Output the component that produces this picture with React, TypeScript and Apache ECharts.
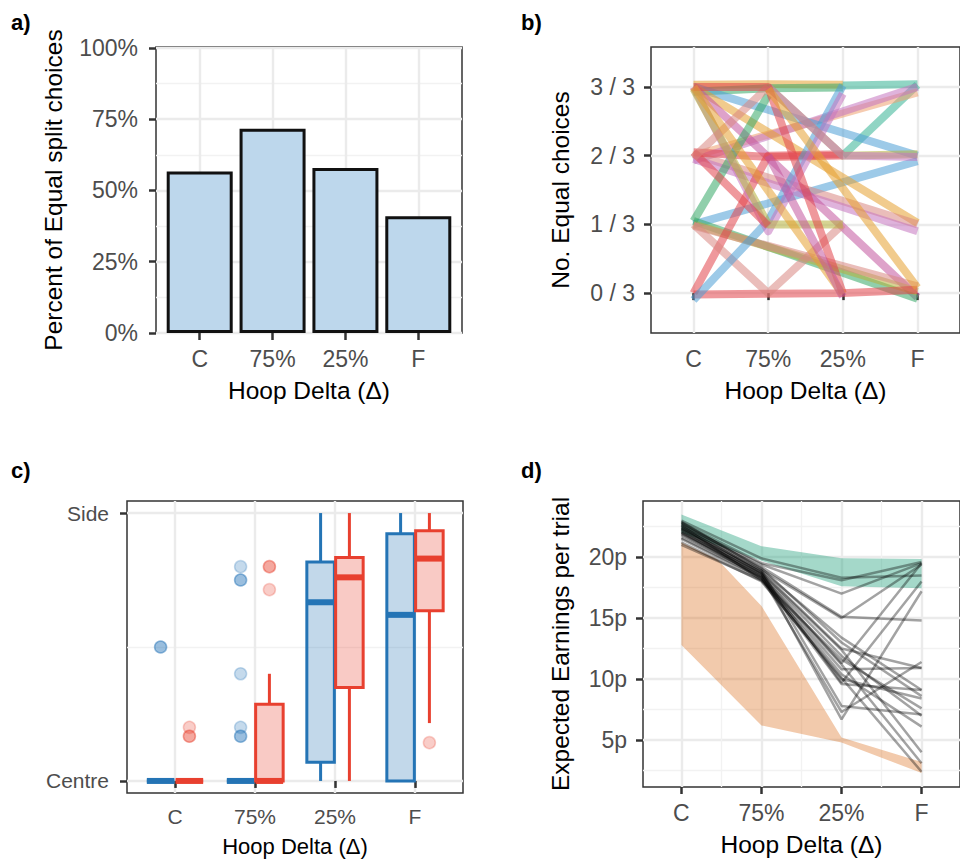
import React, { useEffect, useRef } from "react";
import * as echarts from "echarts";

// ---------- shared ----------
const hoopLevels = ["C", "75%", "25%", "F"];
const hoopPos = [1, 2, 3, 4];
const hoopTitle = "Hoop Delta (Δ)";

// ---------- panel a ----------
const equalSplitShare = [0.567, 0.717, 0.579, 0.41];
const percentTicks = [0, 0.25, 0.5, 0.75, 1];
const percentMinor = [0.125, 0.375, 0.625, 0.875];

// ---------- panel b ----------
const choiceTicks = [0, 1, 2, 3];
const pal = {
  blue: "#4C9FD6",
  orange: "#E6A030",
  green: "#35A866",
  red: "#E2434B",
  purple: "#C474C0",
  olive: "#B5B03A",
  salmon: "#D98682",
  teal: "#34B394",
  peach: "#EFA070",
  magenta: "#C2559E",
};
const participantColors = [
  pal.orange, pal.green, pal.teal, pal.teal, pal.peach, pal.purple, pal.blue, pal.blue,
  pal.orange, pal.salmon, pal.purple, pal.magenta, pal.green, pal.olive, pal.salmon, pal.red,
  pal.red, pal.red, pal.salmon, pal.green, pal.blue, pal.purple, pal.olive, pal.red,
  pal.olive, pal.purple, pal.salmon, pal.red, pal.orange, pal.magenta, pal.orange,
];
// No. equal choices at C, 75%, 25%, F (null = not observed)
const participantChoices: (number | null)[][] = [
  [3.03, 3.04, 3.03, null],
  [2.93, 2.98, 2.99, null],
  [null, null, 3.02, 3.04],
  [null, null, 2.0, 3.03],
  [2.0, null, null, 2.92],
  [1.93, null, null, 3.0],
  [3.0, null, null, 2.0],
  [1.0, null, null, 1.92],
  [3.0, null, null, 1.02],
  [2.02, null, null, 1.0],
  [1.95, null, null, 0.9],
  [3.0, null, null, -0.06],
  [1.05, null, null, -0.08],
  [1.0, null, null, 0.02],
  [0.98, null, null, 0.1],
  [-0.02, -0.01, 0.0, 0.05],
  [0.0, 2.0, 2.02, null],
  [2.05, 1.98, 2.0, null],
  [1.0, 0.0, 1.0, null],
  [1.05, 2.88, null, null],
  [-0.1, 1.05, 3.02, null],
  [3.0, 0.9, 2.9, null],
  [2.97, 1.0, 1.0, null],
  [2.05, 0.98, null, null],
  [null, 3.0, 2.0, 2.02],
  [null, 3.0, 2.0, 1.98],
  [1.97, 3.0, null, null],
  [3.0, 3.0, 0.0, null],
  [3.0, null, -0.02, null],
  [null, 2.0, -0.05, null],
  [null, 2.97, null, 0.08],
];

// ---------- panel c ----------
const sideTicks = [0, 1];
const sideLabels = ["Centre", "Side"];
const sideMinor = [0.5];
// [low, q1, median, q3, high] per hoop level
const blueBoxStats = [
  [0, 0, 0, 0, 0],
  [0, 0, 0, 0, 0],
  [0, 0.07, 0.667, 0.817, 1],
  [0, 0, 0.62, 0.923, 1],
];
const redBoxStats = [
  [0, 0, 0, 0, 0],
  [0, 0, 0, 0.286, 0.4],
  [0, 0.349, 0.76, 0.834, 1],
  [0.216, 0.635, 0.83, 0.934, 1],
];
// [hoop position, value]
const blueOutliers = [
  [1, 0.5], [1, 0.5], [2, 0.8], [2, 0.75], [2, 0.75], [2, 0.4], [2, 0.2], [2, 0.167], [2, 0.167],
];
const redOutliers = [
  [1, 0.2], [1, 0.167], [1, 0.167], [2, 0.8], [2, 0.8], [2, 0.714], [4, 0.143],
];

// ---------- panel d ----------
const earningsTicks = [5, 10, 15, 20];
const earningsMinor = [2.5, 7.5, 12.5, 17.5, 22.5];
const hoopMinor = [1.5, 2.5, 3.5];
const greenTop = [[1, 23.5], [2, 20.9], [3, 19.9], [4, 19.85]];
const greenBottom = [[1, 22.0], [2, 19.7], [3, 17.6], [4, 17.45]];
const orangeTop = [[1, 21.2], [1.45, 19.8], [2, 16.0], [3, 5.2], [4, 3.2]];
const orangeBottom = [[1, 12.8], [2, 6.2], [3, 4.8], [4, 2.3]];
const earnings: number[][] = [
  [23.0, 19.9, 18.3, 18.5],
  [22.8, 19.5, 18.1, 19.6],
  [22.6, 19.4, 17.0, 19.5],
  [22.5, 19.2, 15.1, 14.8],
  [22.9, 19.0, 15.0, 19.4],
  [22.4, 18.9, 13.4, 9.1],
  [22.2, 18.8, 12.5, 10.9],
  [22.7, 18.7, 12.4, 4.0],
  [22.0, 18.6, 11.9, 7.0],
  [22.3, 18.5, 11.3, 19.5],
  [21.8, 18.4, 11.2, 3.1],
  [22.1, 18.3, 10.8, 10.9],
  [21.5, 18.2, 10.4, 6.1],
  [22.6, 18.1, 10.0, 8.4],
  [21.2, 18.0, 10.1, 2.4],
  [22.0, 18.6, 9.7, 18.0],
  [21.6, 18.3, 9.6, 9.1],
  [22.4, 18.9, 7.8, 7.1],
  [21.9, 18.4, 7.3, 11.4],
  [22.3, 18.7, 6.7, 17.2],
  [21.0, 18.1, 11.6, 7.6],
  [22.8, 19.1, 13.0, 8.6],
];

// ---------- styling ----------
const FONT = "'Liberation Sans', Arial, Helvetica, sans-serif";
const TICK_COLOR = "#4D4D4D";
const GRID_MAJOR = { color: "#EBEBEB", width: 2.4 };
const GRID_MINOR = { color: "#F2F2F2", width: 1.3 };
const BLUE = "#2474B5";
const BLUE_FILL = "rgba(36,116,181,0.33)";
const RED = "#E8402F";
const RED_FILL = "rgba(232,64,47,0.33)";
const DODGE = 0.18;
const BOX_HALF = 0.172;

function majorAxis(opts: any) {
  const { gridIndex, min, max, ticks, formatter, fontSize, margin, name, nameGap, nameSize } = opts;
  return {
    type: "value",
    gridIndex,
    min,
    max,
    axisLine: { show: false },
    axisTick: { show: true, length: 7, customValues: ticks, lineStyle: { color: "#333", width: 2.5 } },
    axisLabel: { customValues: ticks, formatter, color: TICK_COLOR, fontSize, fontFamily: FONT, margin },
    splitLine: { show: true, lineStyle: GRID_MAJOR },
    name,
    nameLocation: "middle",
    nameGap,
    nameTextStyle: { color: "#000", fontSize: nameSize, fontFamily: FONT },
  };
}

function minorAxis(gridIndex: number, min: number, max: number, ticks: number[]) {
  return {
    type: "value",
    gridIndex,
    min,
    max,
    axisLine: { show: false },
    axisTick: { show: false, customValues: ticks },
    axisLabel: { show: false, customValues: ticks },
    splitLine: { show: true, lineStyle: GRID_MINOR },
  };
}

const hoopFormatter = (v: number) => hoopLevels[Math.round(v) - 1];

function ribbon(top: number[][], bottom: number[][], color: string, xi: number, yi: number) {
  return {
    type: "custom",
    xAxisIndex: xi,
    yAxisIndex: yi,
    z: 2,
    silent: true,
    data: [[top[0][0], top[0][1]]],
    renderItem: (_p: any, api: any) => {
      const pts = top.map((p) => api.coord(p)).concat(bottom.slice().reverse().map((p) => api.coord(p)));
      return { type: "polygon", shape: { points: pts }, style: { fill: color } };
    },
  };
}

function boxSeries(stats: number[][], offset: number, stroke: string, fill: string) {
  return {
    type: "custom",
    xAxisIndex: 2,
    yAxisIndex: 2,
    z: 3,
    data: stats.map((s, i) => [hoopPos[i] + offset, ...s]),
    renderItem: (_p: any, api: any) => {
      const x = api.value(0);
      const low = api.value(1), q1 = api.value(2), med = api.value(3), q3 = api.value(4), high = api.value(5);
      const c = api.coord([x, med]);
      const pLow = api.coord([x, low]);
      const pHigh = api.coord([x, high]);
      const tl = api.coord([x - BOX_HALF, q3]);
      const br = api.coord([x + BOX_HALF, q1]);
      const ls = { stroke, lineWidth: 3 };
      return {
        type: "group",
        children: [
          { type: "line", shape: { x1: c[0], y1: pLow[1], x2: c[0], y2: br[1] }, style: ls },
          { type: "line", shape: { x1: c[0], y1: pHigh[1], x2: c[0], y2: tl[1] }, style: ls },
          {
            type: "rect",
            shape: { x: tl[0], y: tl[1], width: br[0] - tl[0], height: br[1] - tl[1] },
            style: { fill, stroke, lineWidth: 3 },
          },
          { type: "line", shape: { x1: tl[0], y1: c[1], x2: br[0], y2: c[1] }, style: { stroke, lineWidth: 6 } },
        ],
      };
    },
  };
}

function outlierSeries(points: number[][], offset: number, fill: string) {
  return {
    type: "scatter",
    xAxisIndex: 2,
    yAxisIndex: 2,
    z: 4,
    symbolSize: 12,
    data: points.map((p) => [p[0] + offset, p[1]]),
    itemStyle: { color: fill, borderColor: fill, borderWidth: 1.5 },
  };
}

function buildOption() {
  const A_Y: [number, number] = [0, 1.0035];
  const B_Y: [number, number] = [-0.58, 3.58];
  const C_Y: [number, number] = [-0.045, 1.045];
  const D_Y: [number, number] = [1.15, 24.6];

  const gridStyle = { show: true, borderColor: "#333", borderWidth: 1.5, backgroundColor: "transparent" };

  return {
    animation: false,
    backgroundColor: "#fff",
    grid: [
      { ...gridStyle, left: 156, top: 47, width: 306, height: 286 },
      { ...gridStyle, left: 651, top: 47, width: 319, height: 286 },
      { ...gridStyle, left: 127, top: 501, width: 336, height: 292 },
      { ...gridStyle, left: 643, top: 501, width: 329, height: 286 },
    ],
    xAxis: [
      majorAxis({ gridIndex: 0, min: 0.4, max: 4.6, ticks: hoopPos, formatter: hoopFormatter, fontSize: 23, margin: 14, name: hoopTitle, nameGap: 45, nameSize: 24.5 }),
      majorAxis({ gridIndex: 1, min: 0.43, max: 4.57, ticks: hoopPos, formatter: hoopFormatter, fontSize: 23, margin: 14, name: hoopTitle, nameGap: 45, nameSize: 24.5 }),
      majorAxis({ gridIndex: 2, min: 0.4, max: 4.6, ticks: hoopPos, formatter: hoopFormatter, fontSize: 21, margin: 13, name: hoopTitle, nameGap: 42, nameSize: 22 }),
      majorAxis({ gridIndex: 3, min: 0.52, max: 4.48, ticks: hoopPos, formatter: hoopFormatter, fontSize: 23, margin: 14, name: hoopTitle, nameGap: 45, nameSize: 24.5 }),
      minorAxis(3, 0.52, 4.48, hoopMinor),
    ],
    yAxis: [
      majorAxis({ gridIndex: 0, min: A_Y[0], max: A_Y[1], ticks: percentTicks, formatter: (v: number) => Math.round(v * 100) + "%", fontSize: 23, margin: 18, name: "Percent of Equal split choices", nameGap: 90, nameSize: 24.5 }),
      majorAxis({ gridIndex: 1, min: B_Y[0], max: B_Y[1], ticks: choiceTicks, formatter: (v: number) => `${v} / 3`, fontSize: 23, margin: 16, name: "No. Equal choices", nameGap: 78, nameSize: 24.5 }),
      majorAxis({ gridIndex: 2, min: C_Y[0], max: C_Y[1], ticks: sideTicks, formatter: (v: number) => sideLabels[Math.round(v)], fontSize: 21, margin: 18, name: "", nameGap: 0, nameSize: 22 }),
      majorAxis({ gridIndex: 3, min: D_Y[0], max: D_Y[1], ticks: earningsTicks, formatter: (v: number) => v + "p", fontSize: 23, margin: 16, name: "Expected Earnings per trial", nameGap: 70, nameSize: 24.5 }),
      minorAxis(0, A_Y[0], A_Y[1], percentMinor),
      minorAxis(2, C_Y[0], C_Y[1], sideMinor),
      minorAxis(3, D_Y[0], D_Y[1], earningsMinor),
    ],
    graphic: [
      { type: "text", left: 11, top: 11, style: { text: "a)", font: `bold 22px ${FONT}`, fill: "#000" } },
      { type: "text", left: 521, top: 11, style: { text: "b)", font: `bold 22px ${FONT}`, fill: "#000" } },
      { type: "text", left: 11, top: 459, style: { text: "c)", font: `bold 22px ${FONT}`, fill: "#000" } },
      { type: "text", left: 521, top: 459, style: { text: "d)", font: `bold 22px ${FONT}`, fill: "#000" } },
    ],
    series: [
      // a) bars
      {
        type: "bar",
        xAxisIndex: 0,
        yAxisIndex: 0,
        barWidth: 66,
        data: equalSplitShare.map((v, i) => [hoopPos[i], v]),
        itemStyle: { color: "#BDD7EC", borderColor: "#111", borderWidth: 3 },
        z: 3,
      },
      // b) participant lines
      ...participantChoices.map((row, k) => ({
        type: "line",
        xAxisIndex: 1,
        yAxisIndex: 1,
        showSymbol: false,
        silent: true,
        z: 3,
        data: row
          .map((v, i) => (v === null ? null : [hoopPos[i], v]))
          .filter((p) => p !== null),
        lineStyle: { color: participantColors[k % participantColors.length], width: 8, opacity: 0.55, cap: "butt", join: "round" },
      })),
      // c) boxplots
      boxSeries(blueBoxStats, -DODGE, BLUE, "rgba(36,116,181,0.28)"),
      boxSeries(redBoxStats, DODGE, RED, "rgba(232,64,47,0.28)"),
      outlierSeries(blueOutliers, -DODGE, BLUE_FILL),
      outlierSeries(redOutliers, DODGE, RED_FILL),
      // d) ribbons and lines
      ribbon(orangeTop, orangeBottom, "rgba(217,95,2,0.33)", 3, 3),
      ribbon(greenTop, greenBottom, "rgba(27,158,119,0.4)", 3, 3),
      ...earnings.map((row) => ({
        type: "line",
        xAxisIndex: 3,
        yAxisIndex: 3,
        showSymbol: false,
        silent: true,
        z: 4,
        data: row.map((v, i) => [hoopPos[i], v]),
        lineStyle: { color: "rgba(0,0,0,0.36)", width: 2.5 },
      })),
    ],
  };
}

export default function App() {
  const ref = useRef<HTMLDivElement>(null);
  useEffect(() => {
    if (!ref.current) return;
    const chart = echarts.init(ref.current, undefined, { renderer: "svg" });
    chart.setOption(buildOption() as any);
    return () => chart.dispose();
  }, []);
  return (
    <div
      ref={ref}
      style={{ position: "absolute", left: 0, top: 0, width: 960, height: 862, background: "#fff" }}
    />
  );
}
